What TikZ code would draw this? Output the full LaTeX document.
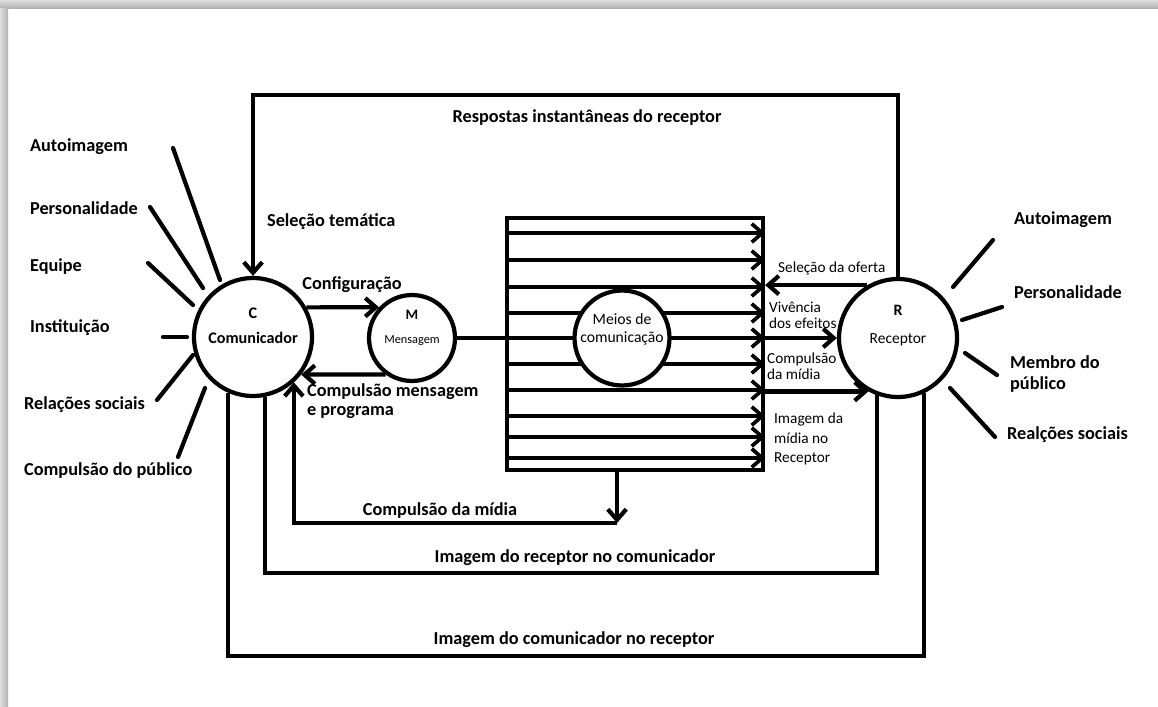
\documentclass[tikz,border=0pt]{standalone}
\usepackage{fontspec}
\setmainfont{Carlito}
\usetikzlibrary{arrows.meta}

\begin{document}
\begin{tikzpicture}[x = 0.02cm, y = -0.02cm, line width = 2.4pt,
                    arr/.style = {-{Straight Barb[length = 6pt, width = 10.5pt]}},
                    disc/.style = {circle, draw, fill = white, inner sep = 0pt},
                    big/.style = {font = \fontsize{10.4}{11}\selectfont\bfseries, inner sep = 0pt},
                    small/.style = {font = \fontsize{8.7}{9.2}\selectfont, align = left, inner sep = 0pt},
                    ray/.style = {line cap = round}]
  \useasboundingbox (0,0) rectangle (1158,706);
  \shade [top color = gray!25, bottom color = gray!65] (0,0) rectangle (1158,9);
  \shade [left color = gray!25, right color = gray!60] (0,9) rectangle (8,706);

  \node [disc, minimum size = 2.36cm] (C) at (253,337) {};
  \node [disc, minimum size = 1.72cm] (M) at (412,338) {};
  \node [draw, minimum width = 5.12cm, minimum height = 5.04cm, inner sep = 0pt] (Box) at (635,344) {};
  \node [disc, minimum size = 2.36cm] (R) at (898,338) {};

  \draw [arr, line width = 2.1pt] (Box.west |- 0,233) -- (Box.east |- 0,233);
  \draw [arr, line width = 2.1pt] (Box.west |- 0,260) -- (Box.east |- 0,260);
  \draw [arr, line width = 2.1pt] (Box.west |- 0,287) -- (Box.east |- 0,287);
  \draw [arr, line width = 2.1pt] (Box.west |- 0,313) -- (Box.east |- 0,313);
  \draw [arr, line width = 2.1pt] (Box.west |- 0,338) -- (Box.east |- 0,338);
  \draw [arr, line width = 2.1pt] (Box.west |- 0,364) -- (Box.east |- 0,364);
  \draw [arr, line width = 2.1pt] (Box.west |- 0,390) -- (Box.east |- 0,390);
  \draw [arr, line width = 2.1pt] (Box.west |- 0,416) -- (Box.east |- 0,416);
  \draw [arr, line width = 2.1pt] (Box.west |- 0,437) -- (Box.east |- 0,437);
  \draw [arr, line width = 2.1pt] (Box.west |- 0,458) -- (Box.east |- 0,458);
  \node [disc, minimum size = 1.9cm] (Meios) at (622,338) {};

  \node [font = \fontsize{9.2}{14}\selectfont\bfseries, align = center] (Ctxt) at (253,326) {C\\Comunicador};
  \node [align = center] (Mtxt) at (412,328) {\fontsize{8.2}{9}\selectfont\bfseries M\\[2pt]\fontsize{7}{8}\selectfont Mensagem};
  \node [font = \fontsize{8.9}{10.2}\selectfont, align = center] (Meiostxt) at (622,329) {Meios de\\comunica\c{c}\~ao};
  \node [align = center] (Rtxt) at (898,326) {\fontsize{9}{10}\selectfont\bfseries R\\[4pt]\fontsize{8.8}{10}\selectfont Receptor};

  \node [big] (Config) at (352,285) {Configuração};
  \node [big, anchor = west, align = left] (CompMsg) at (305,401) {Compulsão mensagem\\e programa};
  \node [big, anchor = west] (SelTem) at (265,222) {Seleção temática};
  \node [big] (Resp) at (587,118) {Respostas instantâneas do receptor};
  \node [big] (CompMid) at (440,511) {Compulsão da mídia};
  \node [big] (ImgRec) at (575,558) {Imagem do receptor no comunicador};
  \node [big] (ImgCom) at (574,640) {Imagem do comunicador no receptor};

  \node [small, anchor = west] (SelOf) at (776,268) {Seleção da oferta};
  \node [small, anchor = west] (Viv) at (767,315) {Vivência\\dos efeitos};
  \node [small, anchor = west] (CompR) at (765,366) {Compulsão\\da mídia};
  \node [small, anchor = west, font = \fontsize{8.7}{11.3}\selectfont] (ImgMid) at (772,439) {Imagem da\\mídia no\\Receptor};

  \node [big, anchor = west] (LA1) at (28,147) {Autoimagem};
  \node [big, anchor = west] (LA2) at (28,208) {Personalidade};
  \node [big, anchor = west] (LA3) at (28,267) {Equipe};
  \node [big, anchor = west] (LA4) at (28,328) {Instituição};
  \node [big, anchor = west] (LA5) at (22,405) {Relações sociais};
  \node [big, anchor = west] (LA6) at (22,471) {Compulsão do público};

  \node [big, anchor = west] (RA1) at (1012,220) {Autoimagem};
  \node [big, anchor = west] (RA2) at (1012,292) {Personalidade};
  \node [big, anchor = west, align = left, font = \fontsize{10.4}{12.5}\selectfont\bfseries] (RA3) at (1008,374) {Membro do\\público};
  \node [big, anchor = west] (RA4) at (1005,435) {Realções sociais};

  % spokes round the two circles
  \draw [ray] (173,148) -- (220,280);
  \draw [ray] (150,207) -- (203,288);
  \draw [ray] (148,263) -- (193,305);
  \draw [ray] (163,337) -- (187,337);
  \draw [ray] (157,400) -- (193,355);
  \draw [ray] (178,457) -- (205,388);
  \draw [ray] (953,287) -- (993,240);
  \draw [ray] (962,320) -- (1002,307);
  \draw [ray] (965,353) -- (997,375);
  \draw [ray] (950,388) -- (995,437);

  \coordinate (TopMid) at (575,95);
  \coordinate (MidLow) at (617,523);
  \coordinate (InBot) at (575,573);
  \coordinate (OutBot) at (575,656);

  \draw [arr] (C.29.4) -- (M.137);
  \draw [arr] (M.234.5) -- (C.322.4);
  \draw (M.east) -- (Box.west |- M.east);
  \draw [arr] (R.120) -- (R.120 -| Box.east);
  \draw [arr] (Box.east |- R.west) -- (R.west);
  \draw [arr] (R.241.8 -| Box.east) -- (R.241.8);
  \draw [arr] (R.north) |- (TopMid) -| (C.north);
  \draw [arr] (Box.south -| MidLow) -- (MidLow);
  \draw [arr] (MidLow) -| (C.-48.6);
  \draw (C.-79.3) |- (InBot) -| (R.-110.9);
  \draw (C.-114.9) |- (OutBot) -| (R.-65.1);
\end{tikzpicture}
\end{document}
